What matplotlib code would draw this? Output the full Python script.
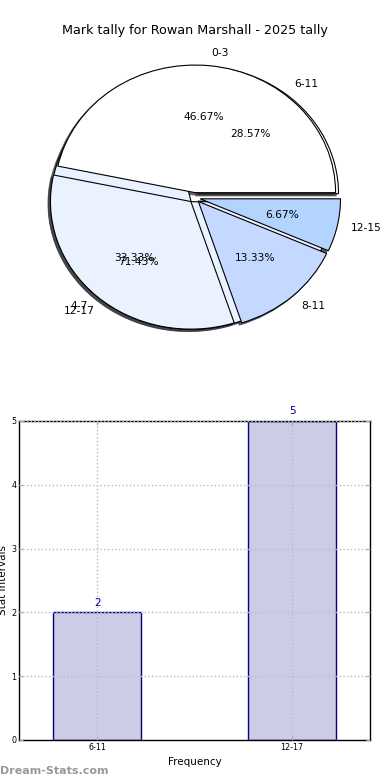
import matplotlib
matplotlib.use("Agg")
import matplotlib.pyplot as plt

# Data
title = "Mark tally for Rowan Marshall - 2025 tally"
pie1_labels = ["0-3", "4-7", "8-11", "12-15"]
pie1_values = [7, 5, 2, 1]
pie2_labels = ["6-11", "12-17"]
pie2_values = [2, 5]
bar_labels = ["6-11", "12-17"]
bar_values = [2, 5]

pie1_colors = ["#ffffff", "#ebf2ff", "#c5d8ff", "#b3d4ff"]
pie2_colors = ["#ffffff", "#ebf2ff"]

fig = plt.figure(figsize=(3.9, 7.8), dpi=100)

# Pie axes
ax1 = fig.add_axes([0.049, 0.542, 0.90, 0.409])
wedgeprops = dict(edgecolor="black", linewidth=0.8)
shadow = dict(ox=-0.012, oy=-0.012, shade=0.75, alpha=0.75)
ax1.pie(pie2_values, labels=pie2_labels, colors=pie2_colors,
        explode=[0.04] * len(pie2_values), autopct="%1.2f%%", shadow=shadow,
        startangle=0, counterclock=True, wedgeprops=wedgeprops,
        textprops=dict(fontsize=7.7))
ax1.pie(pie1_values, labels=pie1_labels, colors=pie1_colors,
        explode=[0.04] * len(pie1_values), autopct="%1.2f%%", shadow=shadow,
        startangle=0, counterclock=True, wedgeprops=wedgeprops,
        textprops=dict(fontsize=7.7))
ax1.set_aspect("auto")
ax1.set_xlim(-1.25, 1.25)
ax1.set_ylim(-1.25, 1.25)
ax1.set_title(title, fontsize=9.2, pad=3)

# Bar axes
ax2 = fig.add_axes([0.049, 0.0513, 0.90, 0.409])
x = list(range(len(bar_values)))
ax2.bar(x, bar_values, width=0.45, color="#ccccE6", edgecolor="#000080",
        linewidth=1.0, zorder=2)
for xi, v in zip(x, bar_values):
    ax2.text(xi, v + 0.07, str(v), ha="center", va="bottom", color="#000080",
             fontsize=7.5)
ax2.set_xlim(-0.4, 1.4)
ax2.set_ylim(0, 5)
ax2.set_xticks(x)
ax2.set_xticklabels(bar_labels)
ax2.set_yticks(range(0, 6))
ax2.tick_params(axis="both", labelsize=5.8, direction="in", length=3,
                top=True, right=True, color="#aaaaaa", pad=2)
ax2.grid(True, linestyle=":", color="#bbbbbb", linewidth=1.0, zorder=0)
ax2.set_axisbelow(False)
for s in ax2.spines.values():
    s.set_linewidth(1.0)
    s.set_color("black")
ax2.set_xlabel("Frequency", fontsize=7.5, labelpad=4)
ax2.set_ylabel("Stat Intervals", fontsize=7.5)
ax2.yaxis.set_label_coords(-0.033, 0.5)

fig.text(0.0, 0.005, "Dream-Stats.com", fontsize=8, color="#999999",
         fontweight="bold", ha="left", va="bottom")

fig.savefig("out.png", dpi=100)
